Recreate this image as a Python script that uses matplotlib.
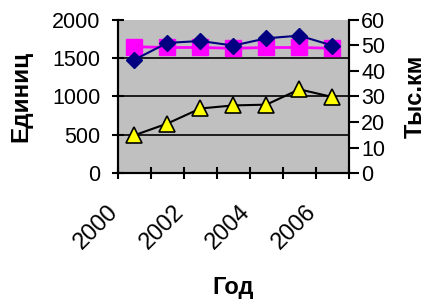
import numpy as np
from matplotlib import pyplot as plt
from matplotlib import transforms

plt.rcParams['font.family'] = ['Liberation Sans', 'DejaVu Sans']

years = ['2000', '2001', '2002', '2003', '2004', '2005', '2006']
blue_units = [1480, 1700, 1725, 1665, 1760, 1795, 1665]
pink_units = [1650, 1640, 1640, 1630, 1640, 1640, 1630]
yellow_km = [14.8, 19.4, 25.3, 26.5, 26.8, 32.8, 29.8]

x = np.arange(len(years))

fig = plt.figure(figsize=(4.27, 3.02), dpi=100)
ax = fig.add_axes([0.276, 0.427, 0.541, 0.507])
ax.set_facecolor('#c0c0c0')
ax2 = ax.twinx()

ax.plot(x, pink_units, color='#ff00ff', lw=2, marker='s', ms=11.5, mfc='#ff00ff', mec='#ff00ff', zorder=3)
ax.plot(x, blue_units, color='#000080', lw=1.5, marker='D', ms=8, mfc='#000080', mec='#000080', zorder=4)
ax2.plot(x, yellow_km, color='black', lw=1.5, marker='^', ms=11, mfc='#ffff00', mec='black', mew=1.2)

ax.set_xlim(-0.5, 6.5)
ax.set_ylim(0, 2000)
ax2.set_ylim(0, 60)
ax.set_yticks([0, 500, 1000, 1500, 2000])
ax2.set_yticks(range(0, 61, 10))
for v in [500, 1000, 1500]:
    ax.axhline(v, color='black', lw=1.2, zorder=1)

ax.set_xticks(x[::2])
ax.set_xticklabels(years[::2], rotation=45, ha='right', va='top', rotation_mode='anchor')
ax.set_xticks(np.arange(-0.5, 7, 1), minor=True)
ax.tick_params(axis='x', which='major', length=0, pad=20, labelsize=17)
ax.tick_params(axis='x', which='minor', length=9, width=1.5, direction='inout')
ax.tick_params(axis='y', length=9, width=1.5, direction='inout', labelsize=15.5, pad=8)
ax2.tick_params(axis='y', length=7, width=1.5, direction='out', labelsize=15.5, pad=2)

# shift the slanted year labels a bit to the left, like in Excel
shift = transforms.ScaledTranslation(-0.27, 0, fig.dpi_scale_trans)
for lab in ax.get_xticklabels():
    lab.set_transform(lab.get_transform() + shift)

for a in (ax, ax2):
    a.spines['top'].set_visible(False)
    a.spines['left'].set_linewidth(1.5)
    a.spines['right'].set_linewidth(1.5)
    a.spines['bottom'].set_linewidth(1.5)

ax.set_ylabel('Единиц', fontsize=17.5, fontweight='bold', labelpad=14)
ax2.set_ylabel('Тыс.км', fontsize=17, fontweight='bold', labelpad=13)
ax.set_xlabel('Год', fontsize=17, fontweight='bold', labelpad=16)

plt.savefig('out.png', dpi=100)
